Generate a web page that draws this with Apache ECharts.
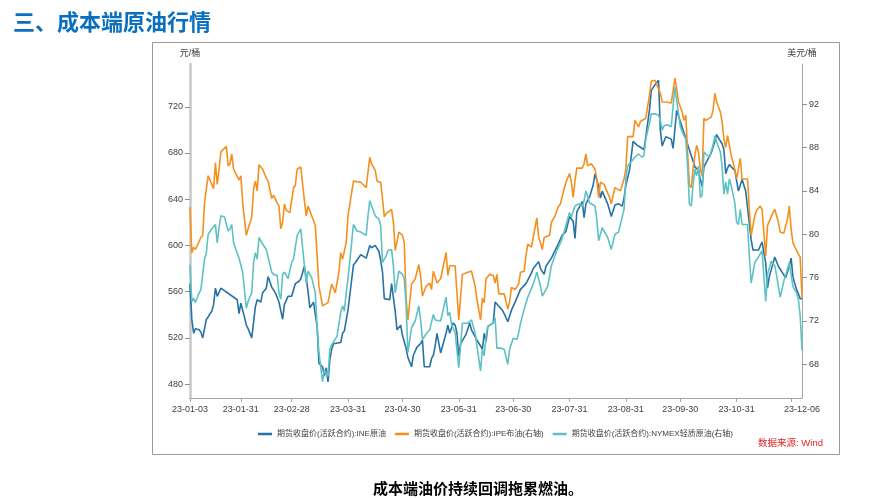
<!DOCTYPE html>
<html><head><meta charset="utf-8">
<script src="https://cdn.jsdelivr.net/npm/echarts@6/dist/echarts.min.js"></script>
<style>html,body{margin:0;padding:0;background:#fff;}#c{width:889px;height:498px;}</style>
</head><body><div id="c"></div>
<script>
// [day of year 2023, price]
const ineData = [[3,567],[4,536],[5,524],[6,528],[8,527],[9,525],[10,520],[12,536],[13,538],[14,541],[15,543],[16,549],[17,563],[18,556],[20,563],[29,553],[30,541],[31,550],[33,538],[34,531],[35,528],[37,520],[39,547],[40,553],[42,551],[43,559],[45,563],[46,573],[48,564],[50,559],[52,551],[53,550],[54,536],[55,549],[57,556],[59,556],[61,567],[63,569],[64,571],[66,582],[67,572],[68,560],[69,546],[71,551],[73,530],[74,498],[76,495],[77,487],[78,494],[79,482],[80,501],[81,510],[82,515],[86,516],[87,524],[88,526],[90,544],[93,583],[94,585],[97,592],[100,589],[102,600],[103,598],[105,600],[107,595],[108,587],[109,577],[110,554],[113,553],[114,567],[116,543],[117,527],[119,531],[120,522],[122,511],[123,503],[125,495],[126,505],[128,512],[130,515],[131,518],[132,495],[135,495],[136,502],[137,505],[138,513],[139,524],[141,507],[144,524],[145,531],[146,524],[148,533],[149,531],[150,524],[151,504],[152,515],[155,523],[157,533],[158,527],[161,518],[163,513],[164,510],[165,524],[166,517],[167,530],[170,533],[171,551],[175,544],[176,541],[178,534],[180,544],[182,551],[185,562],[188,567],[191,576],[192,580],[195,586],[196,580],[198,575],[199,582],[202,589],[206,602],[208,609],[210,612],[212,625],[214,621],[215,606],[216,629],[219,638],[220,624],[221,636],[223,642],[225,652],[226,662],[228,651],[229,641],[230,647],[233,636],[235,625],[237,635],[239,636],[241,634],[242,641],[243,652],[245,665],[247,690],[249,687],[251,685],[253,683],[254,694],[256,717],[257,734],[259,739],[261,743],[262,700],[263,686],[265,694],[266,695],[268,692],[269,684],[271,717],[281,668],[283,665],[284,657],[285,651],[286,668],[288,674],[290,680],[292,690],[293,696],[294,693],[296,688],[297,683],[298,662],[299,667],[300,670],[301,668],[303,665],[305,647],[307,657],[308,652],[309,647],[312,605],[313,596],[314,595],[316,596],[318,603],[320,585],[321,563],[322,573],[325,590],[327,582],[328,583],[331,572],[333,582],[334,589],[335,573],[336,567],[337,562],[339,554],[340,554]];
const ipeData = [[3,82.5],[4,78.3],[5,78.8],[6,78.6],[9,79.7],[10,79.9],[11,82.9],[13,85.4],[15,84.6],[16,84.2],[17,86.6],[18,84.6],[19,86.0],[20,87.6],[23,88.1],[24,86.3],[25,86.5],[26,87.4],[27,86.0],[30,85.0],[31,85.4],[32,82.9],[34,79.9],[35,80.5],[37,81.6],[38,84.2],[39,84.9],[40,84.0],[41,86.4],[43,86.0],[45,85.2],[46,84.9],[48,83.3],[49,83.6],[51,82.9],[52,82.6],[53,80.5],[54,81.1],[55,82.8],[56,82.2],[58,82.0],[60,84.3],[61,84.5],[62,86.0],[64,86.2],[66,83.1],[67,81.7],[68,82.6],[70,81.7],[72,80.8],[74,75.2],[76,73.4],[79,73.7],[81,75.4],[83,74.6],[85,76.5],[86,78.3],[87,77.7],[89,79.2],[90,81.7],[93,84.9],[97,84.8],[100,84.3],[102,87.1],[103,86.5],[104,86.6],[105,85.9],[106,84.9],[108,84.8],[109,83.3],[110,81.6],[111,81.9],[114,82.3],[115,81.1],[116,78.5],[118,80.2],[120,79.9],[121,79.2],[122,74.1],[123,72.1],[125,75.4],[127,75.9],[129,77.2],[130,76.1],[131,74.3],[133,75.2],[135,75.5],[136,74.9],[137,76.6],[139,75.5],[141,75.9],[144,78.3],[145,76.2],[146,77.1],[149,77.1],[151,72.1],[153,76.3],[156,76.5],[158,76.6],[160,75.2],[161,74.0],[163,72.1],[164,74.1],[165,73.7],[166,75.9],[168,76.3],[170,76.2],[171,75.5],[172,76.3],[173,74.5],[176,74.5],[178,73.1],[179,73.8],[180,75.1],[182,74.9],[184,75.4],[185,76.5],[187,76.6],[188,78.0],[189,79.1],[191,78.8],[192,79.7],[194,81.5],[195,79.7],[196,79.2],[197,78.6],[198,79.7],[201,79.9],[202,81.1],[204,81.7],[206,82.6],[207,82.8],[209,84.2],[210,84.8],[212,85.6],[213,84.8],[214,83.4],[215,84.9],[216,86.1],[219,86.1],[220,86.5],[221,87.4],[222,86.3],[224,86.5],[226,86.0],[227,85.1],[228,83.4],[229,84.8],[231,84.6],[234,83.4],[235,82.8],[237,84.3],[240,84.0],[241,83.9],[242,85.1],[243,86.0],[244,89.0],[247,89.0],[248,90.5],[250,89.9],[251,90.4],[254,90.7],[256,92.8],[257,94.1],[259,94.2],[262,93.0],[263,92.2],[265,92.2],[266,92.2],[268,92.1],[270,94.4],[271,93.4],[272,92.2],[274,91.3],[275,90.5],[276,91.0],[277,87.6],[278,84.5],[279,84.3],[280,86.0],[281,87.3],[282,88.2],[283,87.6],[284,86.0],[285,85.4],[286,90.7],[287,90.5],[288,90.4],[290,90.8],[291,91.4],[292,93.0],[293,92.2],[295,91.3],[296,90.4],[297,88.8],[298,88.0],[299,89.1],[300,88.2],[301,87.3],[303,86.0],[304,85.1],[306,87.0],[307,85.1],[308,85.2],[310,85.1],[311,82.3],[312,79.9],[314,81.7],[315,82.2],[317,82.6],[318,82.3],[320,78.0],[321,80.8],[323,81.6],[325,82.3],[326,81.7],[327,81.1],[328,80.2],[330,80.1],[332,81.4],[333,82.6],[334,80.5],[335,79.2],[337,78.5],[339,77.9],[340,74.2]];
const nymexData = [[3,77.2],[4,73.8],[5,74.1],[6,73.7],[8,74.6],[9,74.9],[10,74.8],[11,77.7],[12,78.3],[13,80.0],[15,80.5],[17,80.9],[18,79.2],[19,80.6],[20,81.7],[22,81.6],[24,80.3],[25,80.5],[26,80.9],[27,79.2],[30,77.8],[32,76.5],[34,73.2],[35,73.8],[37,74.6],[38,77.4],[39,78.3],[40,77.7],[41,79.7],[43,79.1],[45,78.6],[46,77.9],[48,76.5],[49,76.3],[51,76.2],[52,74.6],[53,74.0],[54,76.3],[55,76.5],[57,75.9],[59,77.4],[60,77.7],[62,79.9],[64,80.5],[66,77.1],[67,75.5],[68,76.6],[70,76.0],[72,74.6],[73,71.5],[74,69.1],[76,66.4],[77,67.5],[79,66.9],[80,69.4],[81,69.8],[84,70.6],[86,72.8],[87,73.4],[88,72.9],[89,74.6],[90,75.9],[92,79.2],[93,80.9],[95,80.3],[97,80.2],[100,79.9],[101,81.7],[102,83.1],[103,82.6],[104,82.5],[105,81.7],[107,81.4],[108,80.8],[109,77.4],[111,78.0],[112,78.5],[114,78.6],[115,77.1],[116,74.6],[118,76.6],[120,76.3],[121,75.9],[122,73.4],[123,69.1],[125,71.4],[127,72.0],[129,73.4],[130,72.1],[131,70.3],[133,70.8],[135,71.2],[137,72.6],[138,72.1],[139,72.0],[141,72.0],[144,74.2],[145,72.5],[146,72.8],[147,71.7],[149,70.9],[151,67.7],[153,71.8],[156,71.8],[158,72.1],[160,70.9],[161,69.7],[163,67.4],[164,69.4],[165,68.8],[166,70.6],[167,71.5],[170,71.8],[171,72.3],[172,69.5],[174,69.5],[176,69.4],[178,68.0],[179,69.4],[181,70.4],[183,70.3],[184,70.9],[185,71.8],[187,73.1],[189,74.2],[192,75.4],[194,76.5],[196,75.2],[197,74.3],[198,74.3],[200,75.2],[202,77.1],[205,78.5],[207,79.2],[209,80.2],[212,82.0],[213,81.6],[215,82.6],[217,82.8],[219,82.6],[220,83.1],[221,84.0],[223,82.9],[226,82.6],[227,81.4],[228,79.4],[230,80.6],[231,80.5],[233,79.7],[235,78.6],[237,80.0],[239,80.2],[240,80.9],[242,82.3],[243,85.1],[244,86.3],[246,86.7],[248,87.1],[250,87.4],[252,87.1],[253,87.3],[254,88.8],[256,90.2],[257,91.1],[259,91.1],[261,91.0],[262,90.5],[263,89.6],[264,90.0],[266,90.1],[268,89.9],[270,93.6],[272,91.1],[273,89.9],[275,89.1],[276,88.8],[277,86.3],[278,82.8],[279,82.6],[280,84.5],[281,86.0],[282,85.4],[283,86.3],[284,83.4],[285,83.6],[286,87.6],[287,87.4],[289,87.1],[291,88.2],[292,89.1],[293,88.5],[295,87.6],[296,86.3],[297,83.7],[298,84.8],[299,83.7],[300,85.1],[301,84.5],[303,82.9],[304,81.1],[305,80.9],[306,82.3],[307,80.9],[310,80.9],[311,78.0],[312,75.5],[313,75.5],[314,77.4],[316,77.9],[318,78.5],[320,73.8],[321,76.3],[323,77.5],[325,77.1],[326,76.2],[328,74.2],[329,74.9],[330,75.7],[332,76.8],[333,77.4],[335,75.2],[337,74.6],[338,74.0],[339,72.5],[340,69.3]];

const seriesNames = ['期货收盘价(活跃合约):INE原油','期货收盘价(活跃合约):IPE布油(右轴)','期货收盘价(活跃合约):NYMEX轻质原油(右轴)'];
const leftTicks = [480,520,560,600,640,680,720];
const rightTicks = [68,72,76,80,84,88,92];
const xLabelDates = ['2023-01-03','2023-01-31','2023-02-28','2023-03-31','2023-04-30','2023-05-31','2023-06-30','2023-07-31','2023-08-31','2023-09-30','2023-10-31','2023-12-06'];
const xTickDates = ['2023-01-03','2023-01-31','2023-02-28','2023-03-31','2023-04-30','2023-05-31','2023-06-30','2023-07-31','2023-08-31','2023-09-30','2023-10-31','2023-11-30'];
const titleText = '三、成本端原油行情';
const sourceText = '数据来源: Wind';
const captionText = '成本端油价持续回调拖累燃油。';

const dayTs = d => Date.UTC(2023, 0, d);
const dateTs = s => Date.parse(s + 'T00:00:00Z');
const toXY = arr => arr.map(p => [dayTs(p[0]), p[1]]);
const pad = n => (n < 10 ? '0' : '') + n;
const fmt = v => { const d = new Date(v); return String(d.getUTCFullYear()).slice(2) + '-' + pad(d.getUTCMonth() + 1) + '-' + pad(d.getUTCDate()); };

const FONT = "'Liberation Sans','Noto Sans CJK SC',sans-serif";
const colors = ['#2672a6', '#f5901e', '#5ec2c4'];
const axisText = { color: '#404040', fontSize: 9, fontFamily: FONT };

const chart = echarts.init(document.getElementById('c'), null, { renderer: 'canvas' });
chart.setOption({
  animation: false,
  backgroundColor: '#fff',
  color: colors,
  textStyle: { fontFamily: FONT },
  grid: { left: 190, right: 87, top: 64, bottom: 100 },
  legend: {
    left: 253, top: 425, icon: 'rect', itemWidth: 14, itemHeight: 2.5, itemGap: 9,
    textStyle: { color: '#404040', fontSize: 8, fontFamily: FONT },
    data: seriesNames
  },
  xAxis: {
    type: 'value', min: dayTs(3), max: dayTs(340),
    axisLine: { show: true, lineStyle: { color: '#a6a6a6', width: 1 } },
    axisTick: { show: true, length: 4, lineStyle: { color: '#a6a6a6' }, customValues: xTickDates.map(dateTs) },
    axisLabel: Object.assign({ margin: 7, formatter: fmt, customValues: xLabelDates.map(dateTs) }, axisText),
    splitLine: { show: false }
  },
  yAxis: [{
    type: 'value', min: 468, max: 757, position: 'left',
    name: '元/桶', nameLocation: 'end', nameGap: 6, nameTextStyle: axisText,
    axisLine: { show: true, lineStyle: { color: '#c8c8c8', width: 2.5 } },
    axisTick: { show: true, length: 5, lineStyle: { color: '#909090' }, customValues: leftTicks },
    axisLabel: Object.assign({ margin: 7, customValues: leftTicks }, axisText),
    splitLine: { show: false }
  }, {
    type: 'value', min: 64.9, max: 95.7, position: 'right',
    name: '美元/桶', nameLocation: 'end', nameGap: 6, nameTextStyle: axisText,
    axisLine: { show: true, lineStyle: { color: '#a6a6a6', width: 1 } },
    axisTick: { show: true, length: 5, lineStyle: { color: '#909090' }, customValues: rightTicks },
    axisLabel: Object.assign({ margin: 7, customValues: rightTicks }, axisText),
    splitLine: { show: false }
  }],
  series: [
    { name: seriesNames[0], type: 'line', yAxisIndex: 0, data: toXY(ineData), showSymbol: false, lineStyle: { width: 1.6 } },
    { name: seriesNames[1], type: 'line', yAxisIndex: 1, data: toXY(ipeData), showSymbol: false, lineStyle: { width: 1.6 } },
    { name: seriesNames[2], type: 'line', yAxisIndex: 1, data: toXY(nymexData), showSymbol: false, lineStyle: { width: 1.6 } }
  ],
  graphic: [
    { type: 'rect', shape: { x: 152.5, y: 42.5, width: 687, height: 412 }, style: { fill: null, stroke: '#9a9a9a', lineWidth: 1 }, silent: true, z: -1 },
    { type: 'text', x: 13, y: 22, style: { text: titleText, fill: '#0a6fbf', font: "bold 22px 'Noto Sans CJK SC'", align: 'left', verticalAlign: 'middle' } },
    { type: 'text', x: 823, y: 443, style: { text: sourceText, fill: '#e02424', font: "9.5px 'Liberation Sans','Noto Sans CJK SC'", align: 'right', verticalAlign: 'middle' } },
    { type: 'text', x: 478, y: 488, style: { text: captionText, fill: '#000', font: "bold 15px 'Noto Sans CJK SC'", align: 'center', verticalAlign: 'middle' } }
  ]
});
</script></body></html>
